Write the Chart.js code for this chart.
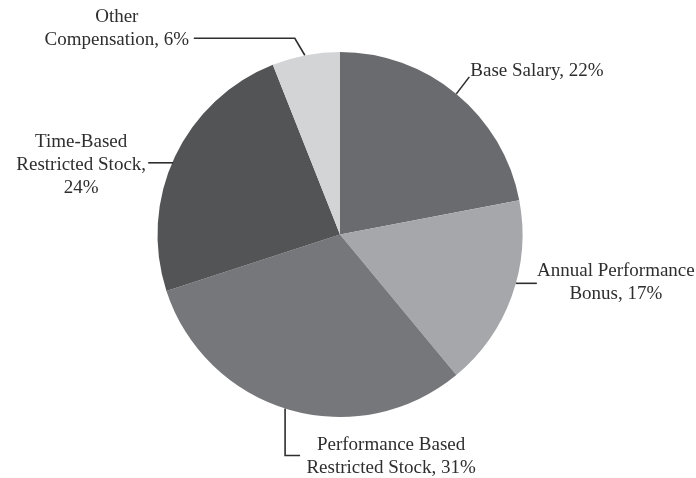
<!DOCTYPE html>
<html>
<head>
<meta charset="utf-8">
<script src="https://cdn.jsdelivr.net/npm/chart.js@4/dist/chart.umd.min.js"></script>
<style>
html,body{margin:0;padding:0;background:#fff;}
#wrap{width:696px;height:478px;}
</style>
</head>
<body>
<div id="wrap"><canvas id="c" width="696" height="478"></canvas></div>
<script>
const categories = ["Base Salary", "Annual Performance Bonus", "Performance Based Restricted Stock", "Time-Based Restricted Stock", "Other Compensation"];
const values = [22, 17, 31, 24, 6];
const labelLines = [
  ["Base Salary, 22%"],
  ["Annual Performance", "Bonus, 17%"],
  ["Performance Based", "Restricted Stock, 31%"],
  ["Time-Based", "Restricted Stock,", "24%"],
  ["Other", "Compensation, 6%"]
];
const colors = ["#6a6b6f", "#a6a7ab", "#76777b", "#535456", "#d3d4d6"];

const FONT = '19px "Liberation Serif", "DejaVu Serif", serif';
const LH = 23;

const leaderPlugin = {
  id: 'leaders',
  afterDatasetsDraw(chart) {
    const ctx = chart.ctx;
    const meta = chart.getDatasetMeta(0);
    ctx.save();
    ctx.strokeStyle = '#2e2e2e';
    ctx.lineWidth = 1.6;
    ctx.fillStyle = '#2e2e2e';
    ctx.font = FONT;
    ctx.textBaseline = 'middle';
    const arcs = meta.data;
    const cx = arcs[0].x, cy = arcs[0].y, r = arcs[0].outerRadius;
    const mid = i => { const a = arcs[i]; return (a.startAngle + a.endAngle) / 2; };
    const pt = i => ({x: cx + r * Math.cos(mid(i)), y: cy + r * Math.sin(mid(i))});
    const edgeX = (y, side) => cx + side * Math.sqrt(Math.max(0, r * r - (y - cy) * (y - cy)));
    function line(points) {
      ctx.beginPath();
      ctx.moveTo(points[0][0], points[0][1]);
      for (let k = 1; k < points.length; k++) ctx.lineTo(points[k][0], points[k][1]);
      ctx.stroke();
    }
    function text(lines, x, y, align) {
      ctx.textAlign = align;
      lines.forEach((t, k) => ctx.fillText(t, x, y + k * LH));
    }
    // 0 Base Salary
    let p = pt(0);
    line([[p.x, p.y], [p.x + 13, p.y - 17]]);
    text(labelLines[0], p.x + 14, p.y - 23, 'left');
    // 1 Annual Performance Bonus
    p = pt(1);
    let y1 = p.y - 13;
    let ex = edgeX(y1, 1);
    line([[ex, y1], [ex + 21, y1]]);
    text(labelLines[1], ex + 100, y1 - 12, 'center');
    // 2 Performance Based
    p = pt(2);
    let lx = p.x - 4;
    let ey = cy + Math.sqrt(r * r - (lx - cx) * (lx - cx));
    line([[lx, ey], [lx, ey + 47], [lx + 15, ey + 47]]);
    text(labelLines[2], lx + 106, ey + 36, 'center');
    // 3 Time-Based
    p = pt(3);
    let y3 = p.y + 6;
    let ex3 = edgeX(y3, -1);
    line([[ex3 + 1, y3], [ex3 - 24, y3]]);
    text(labelLines[3], ex3 - 91, y3 - 21, 'center');
    // 4 Other
    p = pt(4);
    line([[p.x - 1, p.y], [p.x - 11, p.y - 17], [p.x - 112, p.y - 17]]);
    text(labelLines[4], p.x - 189, p.y - 38, 'center');
    ctx.restore();
  }
};

new Chart(document.getElementById('c'), {
  type: 'pie',
  data: {
    labels: categories,
    datasets: [{
      data: values,
      backgroundColor: colors,
      borderWidth: 0,
      hoverOffset: 0
    }]
  },
  options: {
    responsive: false,
    animation: false,
    layout: { padding: { left: 157, right: 173, top: 52, bottom: 61 } },
    plugins: {
      legend: { display: false },
      tooltip: { enabled: false }
    }
  },
  plugins: [leaderPlugin]
});
</script>
</body>
</html>
